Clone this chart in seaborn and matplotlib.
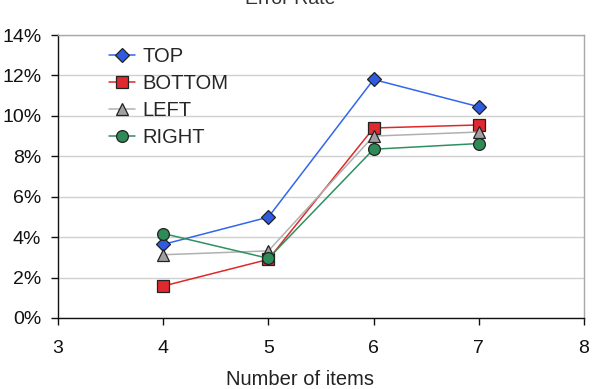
import matplotlib
matplotlib.use("Agg")
import matplotlib.pyplot as plt
import seaborn as sns
import pandas as pd
from matplotlib.ticker import PercentFormatter

items = [4, 5, 6, 7]
top = [3.64, 4.99, 11.80, 10.45]
bottom = [1.58, 2.90, 9.40, 9.55]
left = [3.13, 3.32, 9.00, 9.20]
right = [4.18, 2.95, 8.35, 8.63]

series_names = ["TOP", "BOTTOM", "LEFT", "RIGHT"]
series_values = [top, bottom, left, right]

sns.set_theme(style="white")
plt.rcParams['font.family'] = ['Liberation Sans', 'DejaVu Sans']

df = pd.DataFrame({
    "items": items * 4,
    "rate": sum(series_values, []),
    "series": sum([[n] * len(items) for n in series_names], []),
})

line_colors = {"TOP": "#3366EE", "BOTTOM": "#E02828", "LEFT": "#B0B0B0", "RIGHT": "#2E9060"}
face_colors = {"TOP": "#2F5BE0", "BOTTOM": "#E0282E", "LEFT": "#A0A0A0", "RIGHT": "#2E8B57"}
markers = {"TOP": "D", "BOTTOM": "s", "LEFT": "^", "RIGHT": "o"}
msize = {"TOP": 7.5, "BOTTOM": 8, "LEFT": 8.5, "RIGHT": 8.5}

fig = plt.figure(figsize=(5.92, 3.89), dpi=100)
ax = fig.add_axes([58/592, 1 - 318/389, (584-58)/592, (318-35)/389])

for name in series_names:
    sub = df[df["series"] == name]
    sns.lineplot(data=sub, x="items", y="rate", ax=ax, color=line_colors[name],
                 marker=markers[name], markersize=msize[name],
                 markerfacecolor=face_colors[name], markeredgecolor="#222222",
                 markeredgewidth=0.9, linewidth=1.1, label=name)

ax.set_xlim(3, 8)
ax.set_ylim(0, 14)
ax.set_xticks([3, 4, 5, 6, 7, 8])
ax.set_yticks(range(0, 15, 2))
ax.yaxis.set_major_formatter(PercentFormatter(decimals=0))
ax.grid(axis="y", color="#D0D0D0", linewidth=1.0)
ax.set_axisbelow(True)

for s in ["top", "right"]:
    ax.spines[s].set_color("#A8A8A8")
    ax.spines[s].set_linewidth(1.0)
for s in ["left", "bottom"]:
    ax.spines[s].set_color("#111111")
    ax.spines[s].set_linewidth(1.0)

ax.tick_params(axis="both", which="major", direction="out", length=5, width=1,
               color="#111111", labelsize=14, labelcolor="#111111", pad=7,
               left=True, bottom=True)
ax.tick_params(axis="x", pad=11)

ax.set_xlabel("Number of items", fontsize=14.5, color="#222222")
ax.xaxis.set_label_coords((300 - 58) / 526, -(385 - 318) / 283)
ax.xaxis.label.set_va("baseline")
ax.set_ylabel("")

leg = ax.legend(loc="upper left", bbox_to_anchor=(0.082, 0.985), frameon=False,
                fontsize=14.5, handlelength=1.3, handletextpad=0.35,
                labelspacing=0.39, borderaxespad=0)

fig.text(0.49, 0.99, "Error Rate", ha="center", va="baseline",
         fontsize=14, color="#333333")

fig.savefig("out.png", dpi=100)
